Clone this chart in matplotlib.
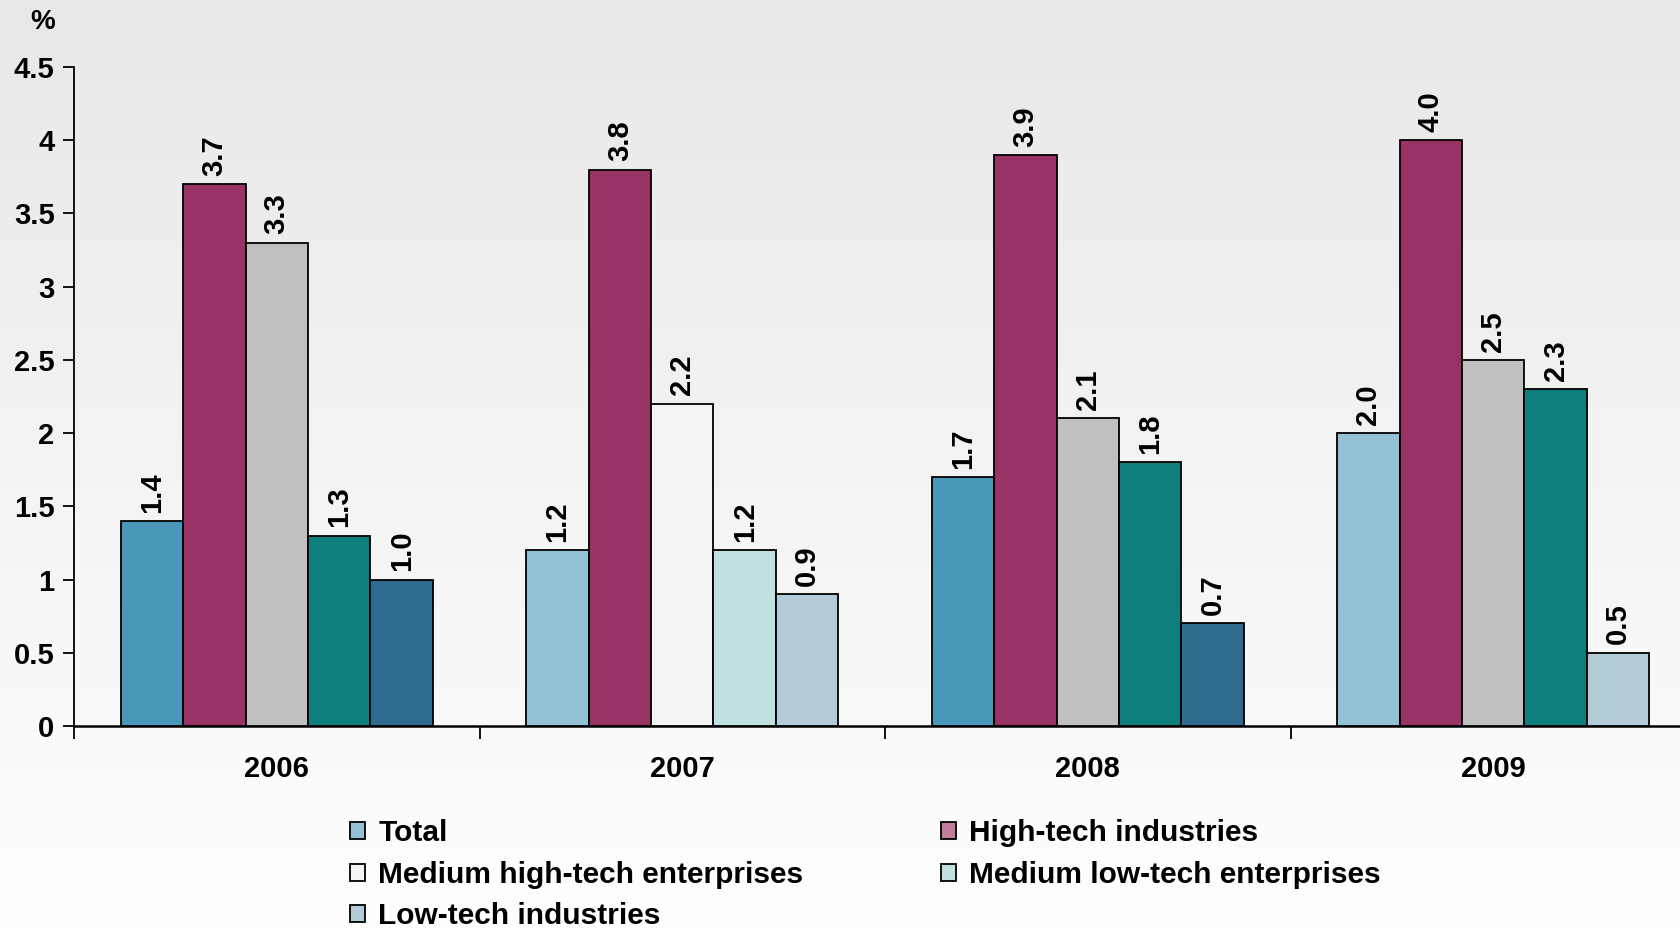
import numpy as np
import matplotlib.pyplot as plt
from matplotlib.patches import Patch

plt.rcParams['font.family'] = ['Liberation Sans', 'DejaVu Sans']
plt.rcParams['font.weight'] = 'bold'

years = ['2006', '2007', '2008', '2009']
series = ['Total', 'High-tech industries', 'Medium high-tech enterprises',
          'Medium low-tech enterprises', 'Low-tech industries']

total = [1.4, 1.2, 1.7, 2.0]
high_tech = [3.7, 3.8, 3.9, 4.0]
medium_high = [3.3, 2.2, 2.1, 2.5]
medium_low = [1.3, 1.2, 1.8, 2.3]
low_tech = [1.0, 0.9, 0.7, 0.5]

# fill colours change from year to year, one row per series
bar_colors = [
    ['#4a98b9', '#93c1d5', '#4a98b9', '#93c1d5'],
    ['#993366', '#993366', '#993366', '#993366'],
    ['#c0c0c0', '#f4f4f4', '#c0c0c0', '#c0c0c0'],
    ['#0f7f7d', '#c1e1e0', '#0f7f7d', '#0f7f7d'],
    ['#2e6b8f', '#b4ccd8', '#2e6b8f', '#b4ccd8'],
]
legend_colors = ['#93c1d5', '#c07d9c', '#f4f4f4', '#c1e1e0', '#b4ccd8']

values = [total, high_tech, medium_high, medium_low, low_tech]

fig = plt.figure(figsize=(16.8, 9.32), dpi=100)

# soft grey-to-white background
bg = fig.add_axes([0, 0, 1, 1], zorder=-10)
grad = np.linspace(0.91, 1.0, 256).reshape(-1, 1)
bg.imshow(np.dstack([grad, grad, grad]), aspect='auto', extent=[0, 1, 0, 1],
          origin='upper')
bg.axis('off')

ax = fig.add_axes([74 / 1680, 206 / 932, 1 - 74 / 1680, (726 - 67) / 932])
ax.patch.set_alpha(0)

x = np.arange(len(years))
width = 0.154
for i, vals in enumerate(values):
    pos = x + (i - 2) * width
    ax.bar(pos, vals, width, color=bar_colors[i], edgecolor='black',
           linewidth=1.3, zorder=3)
    for px, v in zip(pos, vals):
        ax.annotate(f'{v:.1f}', (px, v), xytext=(0, 6), textcoords='offset points',
                    rotation=90, ha='center', va='bottom', fontsize=21,
                    fontweight='bold')

ax.set_xlim(-0.5, (1680 - 74) / 405.5 - 0.5)
ax.set_ylim(0, 4.5)
ax.set_yticks(np.arange(0, 4.51, 0.5))
ax.set_yticklabels(['0', '0.5', '1', '1.5', '2', '2.5', '3', '3.5', '4', '4.5'])
ax.set_xticks(x)
ax.set_xticklabels(years)
ax.set_xticks(np.arange(-0.5, 3.5, 1.0), minor=True)
ax.tick_params(axis='x', which='major', length=0, pad=21, labelsize=21)
ax.tick_params(axis='x', which='minor', length=9, width=1.3, direction='out')
ax.tick_params(axis='y', length=8, width=1.3, pad=6, labelsize=21)
for lbl in ax.get_xticklabels() + ax.get_yticklabels():
    lbl.set_fontweight('bold')

for s in ['top', 'right']:
    ax.spines[s].set_visible(False)
ax.spines['left'].set_linewidth(1.3)
ax.spines['bottom'].set_linewidth(1.8)

fig.text(43 / 1680, 1 - 22 / 932, '%', fontsize=20, fontweight='bold',
         ha='center', va='center')

order = [0, 2, 4, 1, 3]
handles = [Patch(facecolor=legend_colors[k], edgecolor='black', linewidth=1.3,
                 label=series[k]) for k in order]
fig.legend(handles=handles, ncol=2, loc='upper left',
           bbox_to_anchor=(350 / 1680, 1 - 819 / 932), frameon=False,
           borderpad=0, borderaxespad=0,
           handlelength=0.5, handleheight=0.5,
           handletextpad=0.45, columnspacing=4.6, labelspacing=0.46,
           prop={'weight': 'bold', 'size': 21.5})

fig.savefig('out.png', dpi=100)
